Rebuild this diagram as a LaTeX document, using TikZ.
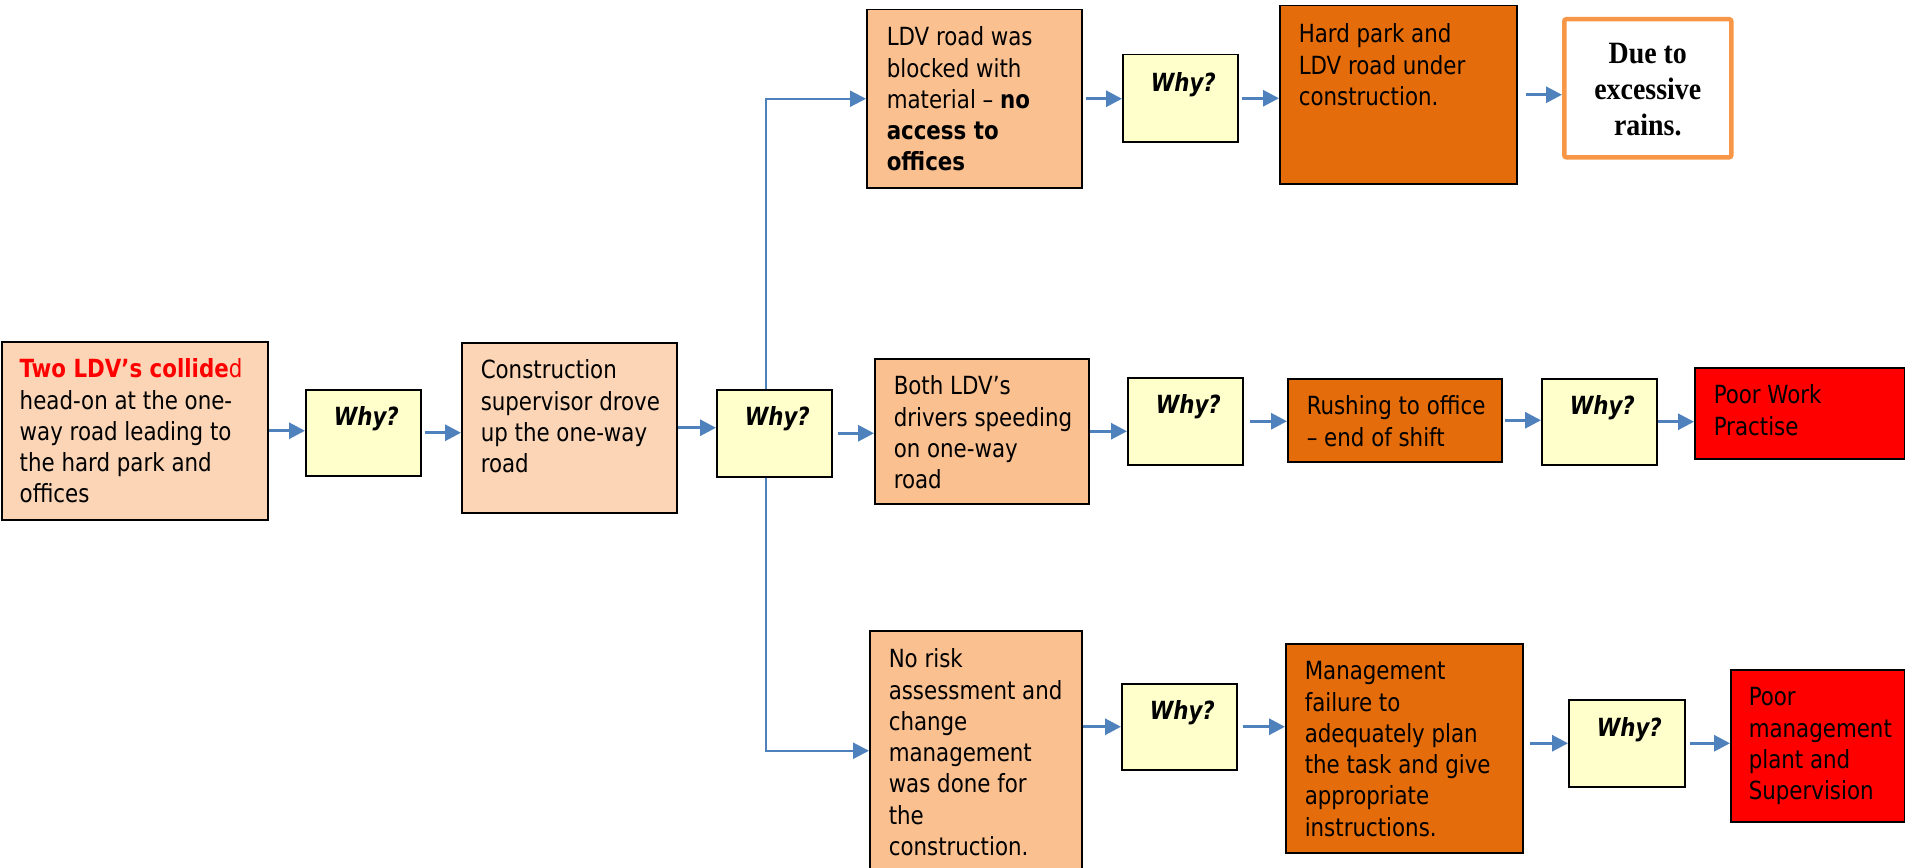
\documentclass[tikz,border=0pt]{standalone}
\usepackage{fontspec}
\usetikzlibrary{arrows.meta,calc}
\newfontfamily\tah{DejaVu Sans Condensed}[FakeStretch=0.95,
  BoldFont={DejaVu Sans Condensed Bold},
  ItalicFont={DejaVu Sans Condensed Oblique},
  BoldItalicFont={DejaVu Sans Condensed Bold Oblique}]
\newfontfamily\tnr{Liberation Serif}[FakeStretch=0.9]
\definecolor{peachL}{HTML}{FBD5B5}
\definecolor{peach}{HTML}{FAC090}
\definecolor{dkor}{HTML}{E46C0A}
\definecolor{whyfill}{HTML}{FFFFCC}
\definecolor{arrblue}{HTML}{4F81BD}
\definecolor{dueor}{HTML}{F79646}
\definecolor{pure red}{HTML}{FF0000}
\newcommand\tb[5]{\parbox[c][#2pt][t]{#1pt}{\hspace*{#3pt}\rule{0pt}{#4pt}\begin{tabular}[t]{@{}l@{}}#5\end{tabular}}}
\tikzset{
  bx/.style={draw=black, line width=1.5pt, inner sep=0pt, anchor=north west,
    font=\tah\fontsize{25}{31.3}\selectfont},
  whybox/.style={bx, fill=whyfill},
  arr/.style={draw=arrblue, line width=3pt, -{Triangle[length=16pt,width=16pt]}},
  brl/.style={draw=arrblue, line width=2.2pt, -{Triangle[length=16pt,width=16pt]}},
}
\begin{document}
\begin{tikzpicture}[x=1pt,y=-1pt]
\useasboundingbox (0,0) rectangle (1905,867);
\clip (0,0) rectangle (1905,867);
% left column
\node[bx, fill=peachL] (b1) at (1,341) {\tb{266}{178}{18}{36}{{\color{pure red}\bfseries Two LDV’s collide}{\color{pure red}d}\\head-on at the one-\\way road leading to\\the hard park and\\offices}};
\node[whybox] (w1) at (305,389) {\tb{115}{86}{28}{36}{\bfseries\itshape Why?}};
\node[bx, fill=peachL] (b2) at (461,342) {\tb{215}{170}{19}{36}{Construction\\supervisor drove\\up the one-way\\road}};
\node[whybox] (w2) at (716,389) {\tb{115}{87}{28}{36}{\bfseries\itshape Why?}};
% top row
\node[bx, fill=peach] (ldv) at (866,9) {\tb{215}{178}{20}{36}{LDV road was\\blocked with\\material – \textbf{no}\\\textbf{access to}\\\textbf{offices}}};
\node[whybox] (wt) at (1122,54) {\tb{115}{87}{28}{37}{\bfseries\itshape Why?}};
\node[bx, fill=dkor] (hp) at (1279,5) {\tb{237}{178}{19}{37}{Hard park and\\LDV road under\\construction.}};
\node[draw=dueor, line width=4.5pt, fill=white, inner sep=0pt, anchor=north west, rounded corners=2pt,
  font=\tnr\bfseries\fontsize{31}{36}\selectfont] (due) at (1562,17)
  {\parbox[c][138pt][t]{167pt}{\centering\rule{0pt}{44pt}\begin{tabular}[t]{@{}c@{}}Due to\\excessive\\rains.\end{tabular}}};
% middle row
\node[bx, fill=peach] (both) at (874,358) {\tb{214}{145}{19}{36}{Both LDV’s\\drivers speeding\\on one-way\\road}};
\node[whybox] (wm) at (1127,377) {\tb{115}{87}{28}{36}{\bfseries\itshape Why?}};
\node[bx, fill=dkor] (rush) at (1287,378) {\tb{214}{83}{19}{36}{Rushing to office\\– end of shift}};
\node[whybox] (wm2) at (1541,378) {\tb{115}{86}{28}{36}{\bfseries\itshape Why?}};
\node[bx, fill=pure red] (pw) at (1694,367) {\tb{210}{91}{19}{36}{Poor Work\\Practise}};
% bottom row
\node[bx, fill=peach] (nr) at (869,630) {\tb{212}{240}{19}{37}{No risk\\assessment and\\change\\management\\was done for\\the\\construction.}};
\node[whybox] (wb) at (1121,683) {\tb{115}{86}{28}{36}{\bfseries\itshape Why?}};
\node[bx, fill=dkor] (mg) at (1285,643) {\tb{237}{209}{19}{36}{Management\\failure to\\adequately plan\\the task and give\\appropriate\\instructions.}};
\node[whybox] (wb2) at (1568,699) {\tb{116}{87}{28}{37}{\bfseries\itshape Why?}};
\node[bx, fill=pure red] (pm) at (1730,669) {\tb{174}{152}{18}{36}{Poor\\management\\plant and\\Supervision}};
% connectors
\draw[arr] (b1.east) -- (b1.east -| w1.west);
\draw[arr] ([xshift=3pt]w1.east) -- (w1.east -| b2.west);
\draw[arr] (b2.east) -- (b2.east -| w2.west);
\draw[brl] ([xshift=-8.5pt]w2.north) |- (ldv.west);
\draw[brl] ([xshift=-8.5pt]w2.south) |- (nr.west);
\draw[arr] ([xshift=5pt]w2.east) -- (w2.east -| both.west);
\draw[arr] ([xshift=3pt]ldv.east) -- (ldv.east -| wt.west);
\draw[arr] ([xshift=3pt]wt.east) -- (wt.east -| hp.west);
\draw[arr] ([xshift=8pt]hp.east) -- (hp.east -| due.west);
\draw[arr] (both.east) -- (both.east -| wm.west);
\draw[arr] ([xshift=6pt]wm.east) -- (wm.east -| rush.west);
\draw[arr] ([xshift=2pt]rush.east) -- (rush.east -| wm2.west);
\draw[arr] (wm2.east) -- (wm2.east -| pw.west);
\draw[arr] (nr.east |- wb.west) -- (wb.west);
\draw[arr] ([xshift=5pt]wb.east) -- (wb.east -| mg.west);
\draw[arr] ([xshift=6pt]mg.east |- wb2.west) -- (wb2.west);
\draw[arr] ([xshift=4pt]wb2.east) -- (wb2.east -| pm.west);
\end{tikzpicture}
\end{document}
